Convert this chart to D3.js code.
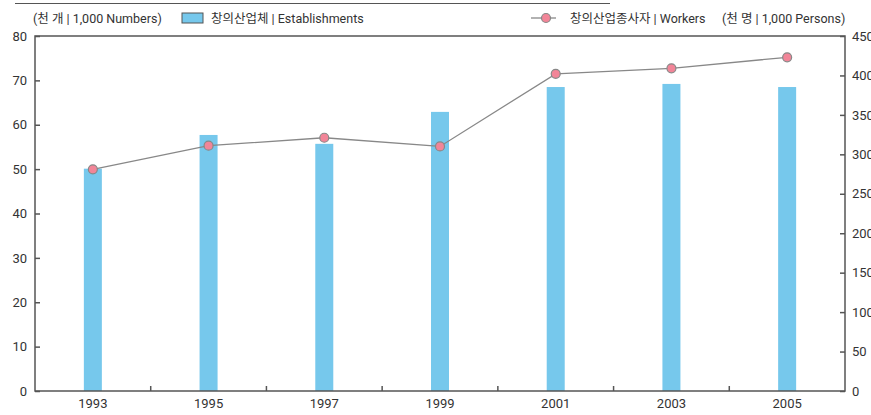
<!DOCTYPE html>
<html lang='ko'>
  <head>
    <meta charset='utf-8'>
    <title>창의산업체 / 종사자</title>
    <style>
      body { margin: 0; background: #fff; }
      svg text { font-family: "Roboto", "Noto Sans CJK KR", sans-serif; fill: #333; }
    </style>
  </head>
  <body>
    <div id="container"></div>
    <script src='https://cdnjs.cloudflare.com/ajax/libs/d3/7.8.5/d3.min.js'></script>
    <script>
      var years = ["1993", "1995", "1997", "1999", "2001", "2003", "2005"];
      var establishments = [50.1, 57.7, 55.7, 62.9, 68.5, 69.2, 68.5];
      var workers = [281, 311, 321, 310, 402, 409, 423];
      var leftTicks = [0, 10, 20, 30, 40, 50, 60, 70, 80];
      var rightTicks = [0, 50, 100, 150, 200, 250, 300, 350, 400, 450];

      var w = 871, h = 415;
      var padLeft = 35, padRight = 845, padTop = 36, padBottom = 391;

      var svg = d3.select("#container").append("svg")
        .attr("width", w)
        .attr("height", h);

      var x = d3.scaleBand().domain(years).range([padLeft, padRight]).padding(0);
      var yL = d3.scaleLinear().domain([0, 80]).range([padBottom, padTop]);
      var yR = d3.scaleLinear().domain([0, 450]).range([padBottom, padTop]);

      // top rule
      svg.append("line")
        .attr("x1", 15).attr("x2", 610)
        .attr("y1", 3.5).attr("y2", 3.5)
        .attr("stroke", "#555").attr("stroke-width", 1.2);

      // bars
      var barW = 18;
      svg.selectAll("rect.bar")
        .data(establishments)
        .enter()
        .append("rect")
        .attr("class", "bar")
        .attr("x", function(d, i) { return x(years[i]) + x.bandwidth() / 2 - barW / 2; })
        .attr("y", function(d) { return yL(d); })
        .attr("width", barW)
        .attr("height", function(d) { return padBottom - yL(d); })
        .attr("fill", "#76c8ec");

      // frame
      svg.append("rect")
        .attr("x", padLeft).attr("y", padTop)
        .attr("width", padRight - padLeft).attr("height", padBottom - padTop)
        .attr("fill", "none").attr("stroke", "#555").attr("stroke-width", 1.5);

      // left axis
      var leftAxis = d3.axisLeft(yL).tickValues(leftTicks).tickSize(-5).tickPadding(8);
      var gl = svg.append("g").attr("transform", "translate(" + padLeft + ",0)").call(leftAxis);

      // right axis (labels run off the edge, as in the source)
      var rightAxis = d3.axisRight(yR).tickValues(rightTicks).tickSize(-5).tickPadding(7);
      var gr = svg.append("g").attr("transform", "translate(" + padRight + ",0)").call(rightAxis);

      // bottom axis, ticks at band boundaries
      var bottomAxis = d3.axisBottom(x).tickSize(0).tickPadding(8);
      var gb = svg.append("g").attr("transform", "translate(0," + padBottom + ")").call(bottomAxis);
      svg.selectAll("line.sep")
        .data(years.slice(1))
        .enter()
        .append("line")
        .attr("class", "sep")
        .attr("x1", function(d) { return x(d); })
        .attr("x2", function(d) { return x(d); })
        .attr("y1", padBottom).attr("y2", padBottom - 5)
        .attr("stroke", "#555").attr("stroke-width", 1.5);

      [gl, gr, gb].forEach(function(g) {
        g.select(".domain").remove();
        g.selectAll(".tick line").attr("stroke", "#555").attr("stroke-width", 1.5);
        g.selectAll(".tick text").style("font-size", "13px").attr("fill", "#333");
      });

      // workers line
      var line = d3.line()
        .x(function(d, i) { return x(years[i]) + x.bandwidth() / 2; })
        .y(function(d) { return yR(d); });
      svg.append("path")
        .datum(workers)
        .attr("d", line)
        .attr("fill", "none")
        .attr("stroke", "#888")
        .attr("stroke-width", 1.3);
      svg.selectAll("circle.pt")
        .data(workers)
        .enter()
        .append("circle")
        .attr("class", "pt")
        .attr("cx", function(d, i) { return x(years[i]) + x.bandwidth() / 2; })
        .attr("cy", function(d) { return yR(d); })
        .attr("r", 4.5)
        .attr("fill", "#f28598")
        .attr("stroke", "#888")
        .attr("stroke-width", 1.2);

      // legend
      var ly = 18;
      svg.append("text").attr("x", 33).attr("y", ly + 4.5)
        .style("font-size", "12.5px").text("(천 개 | 1,000 Numbers)");
      svg.append("rect").attr("x", 182).attr("y", ly - 5).attr("width", 21).attr("height", 10)
        .attr("fill", "#76c8ec").attr("stroke", "#555").attr("stroke-width", 1);
      svg.append("text").attr("x", 211).attr("y", ly + 4.5)
        .style("font-size", "12.5px").text("창의산업체 | Establishments");

      svg.append("line").attr("x1", 531).attr("x2", 556).attr("y1", ly).attr("y2", ly)
        .attr("stroke", "#888").attr("stroke-width", 1.3);
      svg.append("circle").attr("cx", 546).attr("cy", ly).attr("r", 4.5)
        .attr("fill", "#f28598").attr("stroke", "#888").attr("stroke-width", 1.2);
      svg.append("text").attr("x", 570).attr("y", ly + 4.5)
        .style("font-size", "12.5px").text("창의산업종사자 | Workers");
      svg.append("text").attr("x", 722).attr("y", ly + 4.5)
        .style("font-size", "12.5px").text("(천 명 | 1,000 Persons)");
    </script>
  </body>
</html>
